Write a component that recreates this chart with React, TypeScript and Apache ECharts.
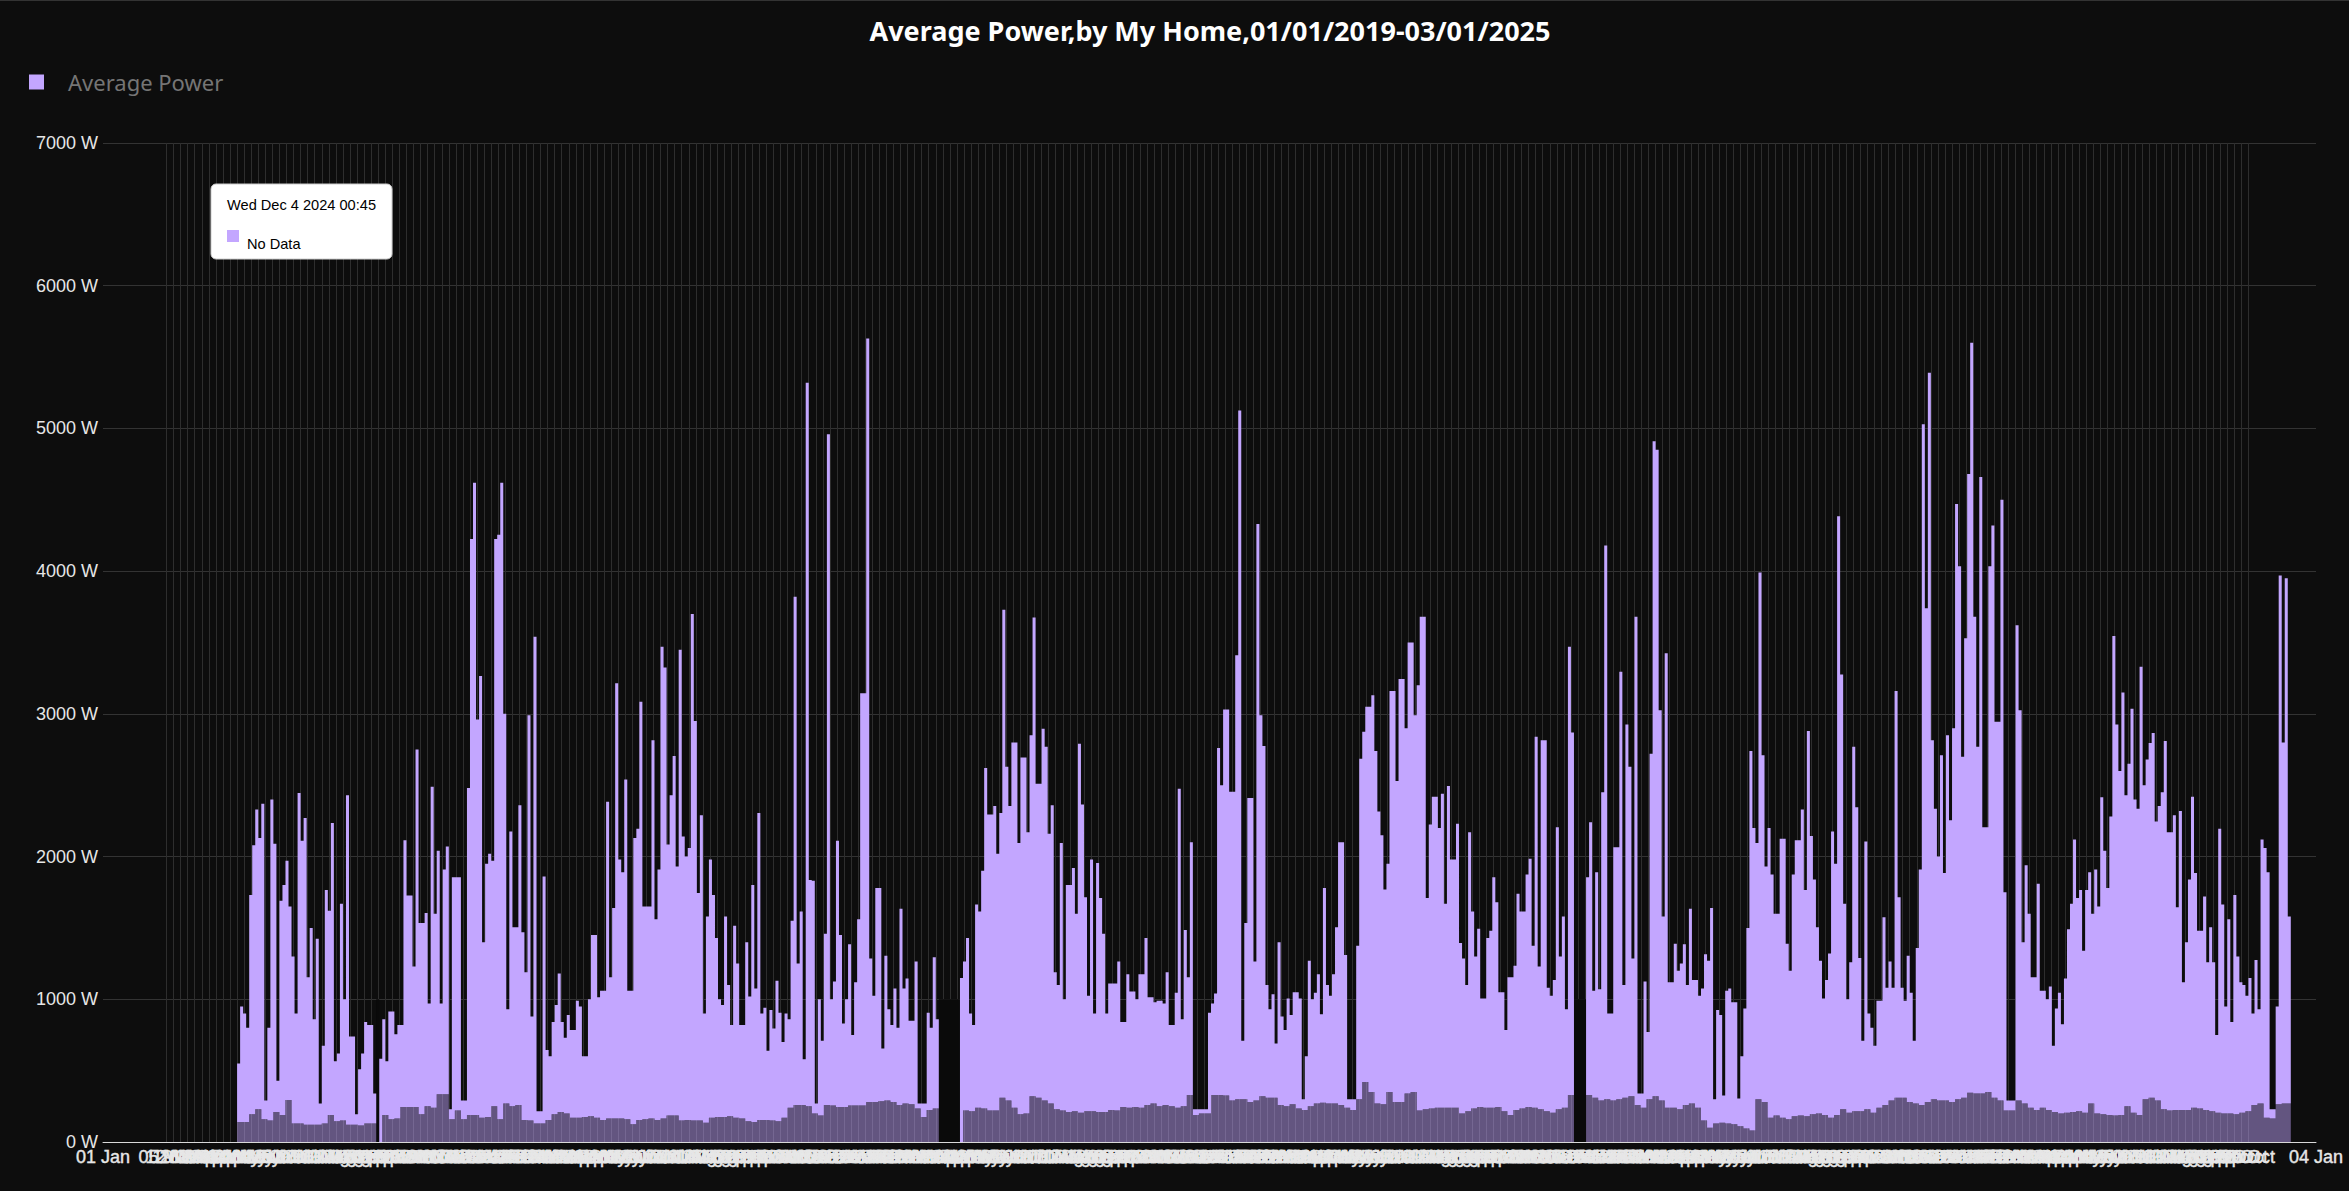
import React, { useEffect, useRef } from "react";
import * as echarts from "echarts";

const titleText = "Average Power,by My Home,01/01/2019-03/01/2025";
const seriesName = "Average Power";
const tooltipDate = "Wed Dec 4 2024 00:45";
const tooltipValue = "No Data";
const monthNames = ["Jan","Feb","Mar","Apr","May","Jun","Jul","Aug","Sep","Oct","Nov","Dec"];

const totalDays = 2195;
const firstDataDay = 133;
const firstWeeklyTickDay = 63;
const lastWeeklyTickDay = 2128;

// Peak power, one value per three days
const high2019a = [550,950,900,800,1730,2080,2330,2130,2370,290,800,2400,2090,430,1690,1800,1970,1650,1300,900,2445,2110,2270,1155,1500,860,1425,270,675,1765,1620,2235,565,620,1670,1000,2430,740,740,195,510,620,840,820,820,340,0,583,860,565,915,915,755,820,820,2115,1727,1727,1230,2750,1535,1535,1605,970,2490,1600,2040,970,1910,2070,230,1855,1855,1855,290,290,2480,4225,4620,2960,3265,1400,1950,2020,1970,4225,4255];
const high2020 = [4620,3000,930,2175,1505,1505,2360,1470,1190,2990,880,3540,215,215,1860,645,600,840,960,1180,840,730,890,785,785,990,950,600,600,1000,1450,1450,1015,1060,1060,2385,1155,1640,3215,1980,1890,2540,1060,1060,2130,2195,3085,1650,1650,1650,2815,1560,1910,3470,3325,2085,2430,2705,1930,3450,2140,2000,2060,3700,2950,1745,2290,900,1580,1980,1730,1430,1000,960,1580,1100,820,1515,1250,820,820,1400,1020,1800,1075,2305];
const high2021a = [900,940,640,925,795,1130,905,700,900,860,1550,3820,1250,1615,580,5320,1835,1830,270,1000,710,1460,4960,1000,1125,2110,1450,830,1000,1385,750,1120,1560,3145,3145,5630,1285,1025,1780,1780,655,1305,930,820,1075,800,1635,1075,1145,850,850,1265,270,270,270,905,800,1295,860,0,0,0,0,0,0,0,1150,1265,1430,900,820,1665,1615,1900,2620,2295,2295,2355,2020,2305,3730,2630,2355,2800,2800,2095];
const high2021b = [2695,2695,2170,2850,3675,2510,2510,2895,2770,2160,2360,1190,1100,2095,1000,1800,1800,1920,1600,2790,2365,1715,1025,1980,900,1955,1710,1460,900,1110,1110,1110,1265,840,840,1175,1055,1055,1000,1175,1175,1430,1015,1015,980,990,990,970,1190,820,820,1045,2475,860,1485,1155,2100,230,230,230,230,230,905,970,1040,2760,2500,3030,3030,2455,2455,3410,5125,710,1535,2410,2410,1265,4330,2990,2775,1100,930,1035,690,1400];
const high2022 = [880,785,1005,890,1050,1050,1005,300,600,1270,1000,1045,1175,895,1780,1100,1025,1175,1505,2100,2100,1310,300,300,300,1375,2685,2875,3050,3050,3130,2740,2315,2150,1770,1950,3160,3160,2530,3245,3245,2900,3500,3500,2990,3200,3680,3680,1710,2225,2420,2420,2200,2440,1670,2495,1980,1980,2230,1395,1285,1100,2170,1615,1300,1495,1005,1005,1430,1480,1855,1680,1050,1050,785,1155,1155,1235,1740,1615,1615,1875,1985,1375,2840,1230];
const high2023 = [2815,2815,1080,1025,1135,2205,1300,1580,930,3470,2870,0,0,0,0,1855,2240,1060,1890,1070,2450,4180,900,900,2065,2065,3295,1100,2925,2630,1285,3680,340,340,1125,770,2720,4910,4850,3025,1580,3425,1120,1120,1390,1200,1250,1385,1100,1635,1135,1135,1025,1075,1315,1270,1640,300,925,890,325,1060,1075,980,980,305,600,935,1500,2740,2200,2095,3990,2710,1930,2200,1875,1600,1600,2125,2125,1390,1200,1875,2115,2115];
const high2024a = [2330,1765,2880,2145,1840,1505,1270,1005,1135,1320,2175,1950,4385,3275,1670,1000,1260,2770,2345,1290,710,2105,900,800,675,990,990,1575,1080,1265,1080,3160,1715,1080,990,1305,1045,710,1360,1910,5030,3740,5390,2815,2335,2000,2710,1885,2850,2255,2900,4470,4035,2700,3530,4680,5600,3680,2770,4660,2205,2205,4035,4320,2945,2945,4500,1750,290,290,290,3620,3025,1400,1940,1600,1155,1155,1810,1060,1060,1000,1090];
const high2024b = [675,935,1045,825,1145,1490,1670,2120,1710,1765,1340,1765,1890,1600,1910,1650,2415,2040,1780,2280,3545,2925,2600,3150,2430,2650,3035,2400,2335,3330,2500,2680,2795,2865,2245,2355,2450,2810,2170,2170,2290,1645,2320,1120,1400,1840,2420,1885,1480,1480,1720,1260,1505,1260,750,2195,1665,950,1560,840,1730,1300,1120,1100,1025,1150,900,1275,930,2120,2060,1890,230,230,950,3970,2800,3950,1580];

// Base load, one value per six days
const low2019 = [140,140,195,230,160,150,210,190,295,130,130,120,120,120,130,190,145,150,120,120,115,130,130,0,190,160,165,245,245,245,195,250,240,335,335,160,220,160,190,190,170,175,250];
const low2020 = [160,270,250,260,155,150,130,130,155,195,210,200,170,170,175,180,170,155,165,165,165,160,125,155,160,165,155,165,185,185,150,155,150,150,135,170,175,175,180,170,165,145,140];
const low2021a = [155,155,150,145,170,240,260,260,250,200,185,260,255,245,245,255,255,255,280,280,285,290,280,260,270,265,235,175,225,235,0,0,0,0,220,215,240,235,220,220,310,290,240];
const low2021b = [195,200,320,310,290,270,230,220,210,215,205,215,215,210,210,225,220,245,240,245,240,260,270,250,260,250,240,250,330,190,200,200,330,330,325,290,300,300,280,290,320,310,310];
const low2022 = [260,250,265,235,225,250,270,275,270,270,260,240,225,300,420,350,270,265,350,280,280,340,350,220,230,235,240,240,240,240,200,215,235,245,240,240,245,215,190,225,235,245,240];
const low2023 = [230,215,205,230,240,330,0,0,330,310,290,300,290,300,310,320,260,240,300,320,290,240,240,230,260,270,240,150,100,130,135,130,125,110,95,80,300,280,170,185,170,160,180];
const low2024 = [185,180,195,200,190,170,190,230,205,215,215,230,205,240,260,290,310,310,280,270,260,280,300,290,290,280,300,310,345,340,340,350,310,290,220,220,290,270,240,225,240,225,210,200,205,210,215,205,270,200,195,190,185,190,250,205,190,300,310,290,230,220,225,225,225,240,235,225,215,205,200,200,195,205,215,260,270,170,165,265,270];

const yTicks = { min: 0, max: 7000, interval: 1000 };

const highWatts = [...high2019a, ...high2020, ...high2021a, ...high2021b, ...high2022, ...high2023, ...high2024a, ...high2024b];
const lowWatts = [...low2019, ...low2020, ...low2021a, ...low2021b, ...low2022, ...low2023, ...low2024];

const dayLabels: string[] = [];
for (let d = 0; d <= totalDays; d++) {
  const t = new Date(Date.UTC(2019, 0, 1 + d));
  const dd = String(t.getUTCDate()).padStart(2, "0");
  dayLabels.push(`${dd} ${monthNames[t.getUTCMonth()]}`);
}

const isWeekly = (d: number) =>
  d >= firstWeeklyTickDay && d <= lastWeeklyTickDay && (d - firstWeeklyTickDay) % 7 === 0;

const baseSeries: (number | null)[] = [];
const rangeSeries: (number | null)[] = [];
const noDataBands: any[] = [];
for (let d = 0; d <= totalDays; d++) {
  const i = Math.floor((d - firstDataDay) / 3);
  const j = Math.floor((d - firstDataDay) / 6);
  if (d < firstDataDay || i >= highWatts.length) {
    baseSeries.push(null);
    rangeSeries.push(null);
    continue;
  }
  const hi = highWatts[i];
  const lo = Math.min(lowWatts[Math.min(j, lowWatts.length - 1)], hi);
  baseSeries.push(lo);
  rangeSeries.push(hi - lo);
}
let runStart = -1;
highWatts.forEach((v, i) => {
  if (v === 0 && runStart < 0) runStart = i;
  if (v !== 0 && runStart >= 0) {
    noDataBands.push([
      { xAxis: firstDataDay + runStart * 3, yAxis: 0 },
      { xAxis: firstDataDay + i * 3, yAxis: 1000 },
    ]);
    runStart = -1;
  }
});

const sansFont = "Liberation Sans";
const uiFont = "Noto Sans";

export default function App() {
  const ref = useRef<HTMLDivElement>(null);
  useEffect(() => {
    document.body.style.margin = "0";
    document.body.style.background = "#0d0d0d";
    const chart = echarts.init(ref.current!, undefined, { renderer: "svg" });
    chart.setOption({
      animation: false,
      backgroundColor: "#0d0d0d",
      title: {
        text: titleText,
        left: 1205,
        top: 12,
        textAlign: "center",
        textStyle: { color: "#ffffff", fontFamily: uiFont, fontWeight: "bold", fontSize: 27 },
      },
      legend: {
        data: [seriesName],
        left: 24,
        top: 66,
        icon: "rect",
        itemWidth: 15,
        itemHeight: 15,
        textStyle: { color: "#757575", fontFamily: uiFont, fontSize: 22, padding: [0, 0, 0, 19] },
      },
      grid: { left: 103, top: 143, width: 2213, height: 999, containLabel: false },
      xAxis: {
        type: "category",
        boundaryGap: false,
        data: dayLabels,
        axisTick: { show: false },
        axisLine: { lineStyle: { color: "#d8d8d8", width: 1 } },
        axisLabel: {
          interval: (d: number) => d === 0 || d === totalDays || isWeekly(d),
          color: "#e6e6e6",
          fontFamily: sansFont,
          fontSize: 18,
          margin: 6,
          hideOverlap: false,
          textBorderColor: "#eeeeee",
          textBorderWidth: 0.4,
        },
        splitLine: {
          show: true,
          interval: (d: number) => isWeekly(d),
          lineStyle: { color: "#2e2e2e", width: 1 },
        },
      },
      yAxis: {
        type: "value",
        min: yTicks.min,
        max: yTicks.max,
        interval: yTicks.interval,
        axisLine: { show: false },
        axisTick: { show: false },
        axisLabel: {
          formatter: (v: number) => `${v} W`,
          color: "#e6e6e6",
          fontFamily: sansFont,
          fontSize: 18,
          margin: 5,
        },
        splitLine: { show: true, lineStyle: { color: "#333333", width: 1 } },
      },
      series: [
        {
          name: "Base load",
          type: "line",
          stack: "power",
          step: "end",
          showSymbol: false,
          silent: true,
          data: baseSeries,
          lineStyle: { width: 0 },
          itemStyle: { color: "#c3a6ff" },
          areaStyle: { color: "#c3a6ff", opacity: 0.48 },
        },
        {
          name: seriesName,
          type: "line",
          stack: "power",
          step: "end",
          showSymbol: false,
          silent: true,
          data: rangeSeries,
          lineStyle: { width: 0 },
          itemStyle: { color: "#c3a6ff" },
          areaStyle: { color: "#c3a6ff", opacity: 1 },
          markArea: {
            silent: true,
            itemStyle: { color: "#0a0a0a" },
            data: noDataBands,
          },
        },
      ],
      graphic: [
        { type: "rect", z: 100, shape: { x: 0, y: 0, width: 2349, height: 1 }, style: { fill: "#333333" } },
        {
          type: "rect",
          z: 100,
          x: 211,
          y: 184,
          shape: { x: 0, y: 0, width: 181, height: 75, r: 5 },
          style: { fill: "#ffffff", stroke: "#cccccc", lineWidth: 1 },
        },
        {
          type: "text",
          z: 101,
          x: 227,
          y: 205,
          style: { text: tooltipDate, fill: "#000000", font: `14.6px "${sansFont}"`, textVerticalAlign: "middle" },
        },
        { type: "rect", z: 101, x: 227, y: 230, shape: { x: 0, y: 0, width: 12, height: 12 }, style: { fill: "#c3a6ff" } },
        {
          type: "text",
          z: 101,
          x: 247,
          y: 244,
          style: { text: tooltipValue, fill: "#000000", font: `14.6px "${sansFont}"`, textVerticalAlign: "middle" },
        },
      ],
    });
    return () => chart.dispose();
  }, []);
  return <div ref={ref} style={{ width: 2349, height: 1191 }} />;
}
